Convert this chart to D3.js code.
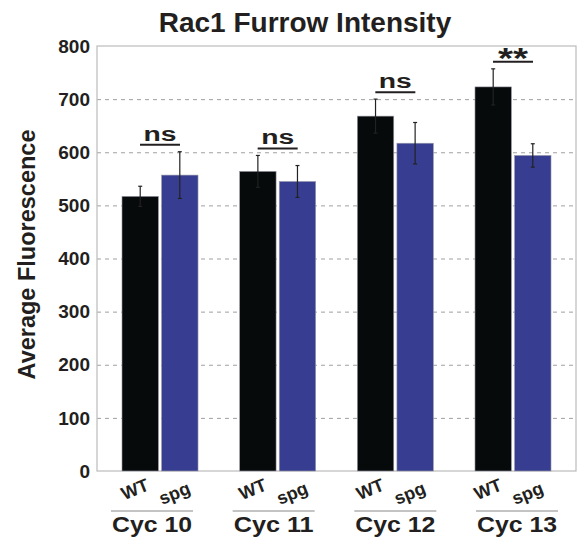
<!DOCTYPE html>
<html>
<head>
<meta charset="utf-8">
<script src="https://cdn.jsdelivr.net/npm/d3@7"></script>
<style>
  body { margin: 0; background: #fff; }
  text { font-family: "Liberation Sans", Arial, sans-serif; font-weight: bold; fill: #231f20; }
  .grid line { stroke: #888; stroke-dasharray: 4,4; stroke-width: 0.8; }
  .grid path { display: none; }
</style>
</head>
<body>
<div id="chart"></div>
<script>
var cycles = ["Cyc 10", "Cyc 11", "Cyc 12", "Cyc 13"];
var groups = ["WT", "spg"];
var wtMeans = [517, 564, 668, 723];
var wtErr = [19, 30, 32, 34];
var spgMeans = [557, 545, 617, 594];
var spgErr = [44, 30, 39, 22];
var signif = ["ns", "ns", "ns", "**"];
var yTicks = [0, 100, 200, 300, 400, 500, 600, 700, 800];

var W = 577, H = 542;
var margin = {top: 46, right: 1, bottom: 71, left: 97};
var width = W - margin.left - margin.right,
    height = H - margin.top - margin.bottom;

var svg = d3.select("#chart").append("svg")
    .attr("width", W)
    .attr("height", H);

var g = svg.append("g")
    .attr("transform", "translate(" + margin.left + "," + margin.top + ")");

var x0 = d3.scaleBand().domain(cycles).range([3, width - 3]).paddingInner(0.3).paddingOuter(0.16);
var x1 = d3.scaleBand().domain(groups).range([0, x0.bandwidth()]).padding(0.08);
// cycle captions below the axis sit on their own, slightly wider spacing
var xLab = d3.scalePoint().domain(cycles).range([55, 420]);
var y = d3.scaleLinear().domain([0, 800]).range([height, 0]);
var color = d3.scaleOrdinal().domain(groups).range(["#060a0a", "#373e92"]);

var data = [];
cycles.forEach(function(c, i) {
    data.push({cyc: c, grp: "WT", v: wtMeans[i], e: wtErr[i]});
    data.push({cyc: c, grp: "spg", v: spgMeans[i], e: spgErr[i]});
});

// gridlines
g.append("g")
    .attr("class", "grid")
    .call(d3.axisLeft(y).tickValues(yTicks.filter(function(t) { return t > 0 && t < 800; }))
        .tickSize(-width).tickFormat(""));

// frame
g.append("rect")
    .attr("width", width).attr("height", height)
    .attr("fill", "none").attr("stroke", "#bbb").attr("stroke-width", 1.2);

// bars
g.selectAll(".bar").data(data).enter().append("rect")
    .attr("class", "bar")
    .attr("x", function(d) { return x0(d.cyc) + x1(d.grp); })
    .attr("y", function(d) { return y(d.v); })
    .attr("width", x1.bandwidth())
    .attr("height", function(d) { return height - y(d.v); })
    .attr("fill", function(d) { return color(d.grp); })
    .attr("stroke", "#9a9aa8").attr("stroke-width", 0.6);

// error bars
var eb = g.selectAll(".err").data(data).enter().append("g").attr("class", "err")
    .attr("stroke", "#222").attr("stroke-width", 1.2);
eb.append("line")
    .attr("x1", function(d) { return x0(d.cyc) + x1(d.grp) + x1.bandwidth() / 2; })
    .attr("x2", function(d) { return x0(d.cyc) + x1(d.grp) + x1.bandwidth() / 2; })
    .attr("y1", function(d) { return y(d.v - d.e); })
    .attr("y2", function(d) { return y(d.v + d.e); });
[1, -1].forEach(function(s) {
    eb.append("line")
        .attr("x1", function(d) { return x0(d.cyc) + x1(d.grp) + x1.bandwidth() / 2 - 2; })
        .attr("x2", function(d) { return x0(d.cyc) + x1(d.grp) + x1.bandwidth() / 2 + 2; })
        .attr("y1", function(d) { return y(d.v + s * d.e); })
        .attr("y2", function(d) { return y(d.v + s * d.e); });
});

// significance markers
cycles.forEach(function(c, i) {
    var top = Math.max(wtMeans[i] + wtErr[i], spgMeans[i] + spgErr[i]);
    var cx = x0(c) + x0.bandwidth() / 2;
    var ly = y(top) - 7;
    g.append("line")
        .attr("x1", cx - 20).attr("x2", cx + 20)
        .attr("y1", ly).attr("y2", ly)
        .attr("stroke", "#231f20").attr("stroke-width", 2);
    var star = signif[i] == "**";
    g.append("text")
        .attr("x", cx).attr("y", star ? ly + 6 : ly - 4)
        .attr("text-anchor", "middle")
        .attr("textLength", star ? 30 : 33)
        .attr("lengthAdjust", "spacingAndGlyphs")
        .style("font-size", star ? "30px" : "20px")
        .text(signif[i]);
});

// y axis labels
g.selectAll(".ytick").data(yTicks).enter().append("text")
    .attr("x", -7).attr("y", function(d) { return y(d); })
    .attr("dy", "0.35em")
    .attr("text-anchor", "end")
    .style("font-size", "19px")
    .text(function(d) { return d; });

svg.append("text")
    .attr("transform", "translate(35," + (margin.top + y(400) - 4) + ") rotate(-90)")
    .attr("text-anchor", "middle")
    .style("font-size", "23.5px")
    .text("Average Fluorescence");

// group labels (rotated)
cycles.forEach(function(c) {
    groups.forEach(function(gr, j) {
        var cx = x0(c) + x1(gr) + x1.bandwidth() / 2 - 3;
        g.append("text")
            .attr("transform", "translate(" + cx + "," + (height + (j == 0 ? 24 : 28)) + ") rotate(-22)")
            .attr("text-anchor", "middle")
            .style("font-size", "18px")
            .text(gr);
    });
    var cx = xLab(c);
    g.append("line")
        .attr("x1", cx - 41).attr("x2", cx + 41)
        .attr("y1", height + 40).attr("y2", height + 40)
        .attr("stroke", "#888").attr("stroke-width", 1);
    g.append("text")
        .attr("x", cx).attr("y", height + 61)
        .attr("text-anchor", "middle")
        .attr("textLength", 80)
        .attr("lengthAdjust", "spacingAndGlyphs")
        .style("font-size", "22px")
        .text(c);
});

// title
svg.append("text")
    .attr("x", 305).attr("y", 32)
    .attr("text-anchor", "middle")
    .style("font-size", "28px")
    .text("Rac1 Furrow Intensity");
</script>
</body>
</html>
